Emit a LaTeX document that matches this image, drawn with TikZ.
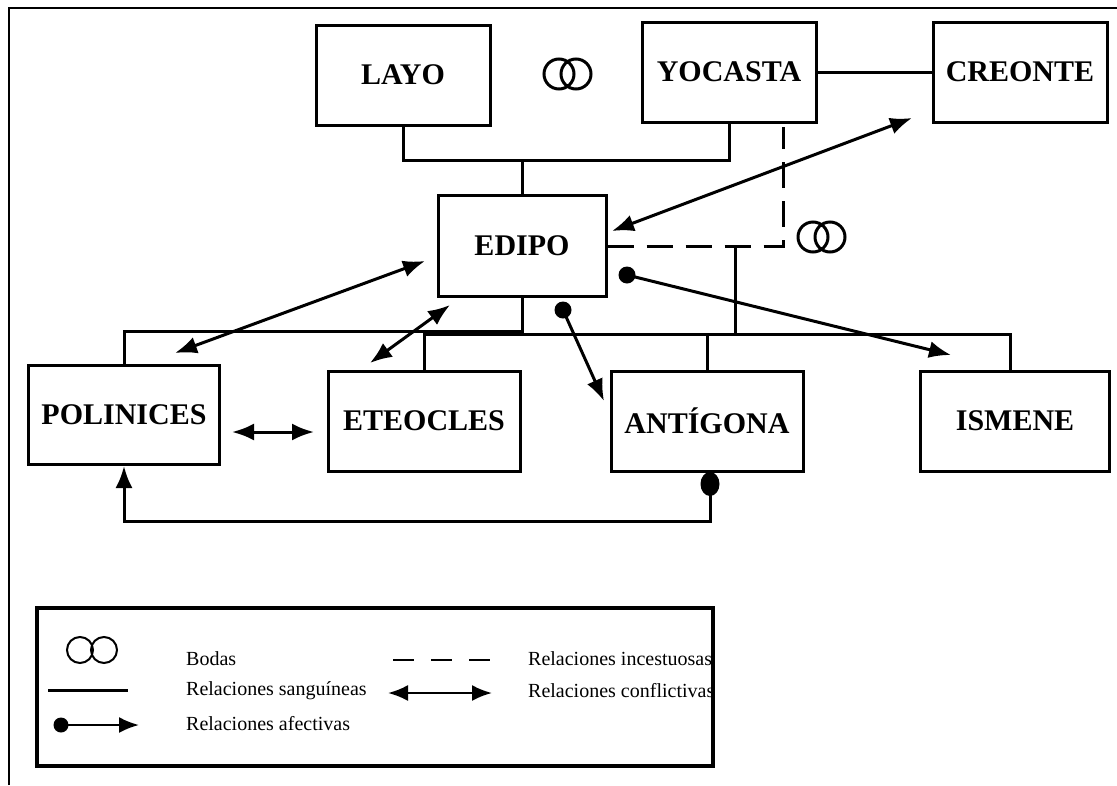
\documentclass[tikz,border=0pt]{standalone}
\usepackage{fontspec}
\setmainfont{Liberation Serif}
\usetikzlibrary{arrows.meta}

\begin{document}
\begin{tikzpicture}[x=1pt,y=-1pt,
  person/.style={draw,line width=3pt,minimum width=174pt,minimum height=100pt,
    inner sep=0pt,font=\fontsize{30}{31}\selectfont\bfseries},
  blood/.style={line width=3pt},
  incest/.style={line width=3pt,dash pattern=on 26pt off 13pt},
  bigtip/.tip={Latex[length=22pt,width=17pt]},
  smalltip/.tip={Latex[length=20pt,width=16pt]},
  conflict/.style={line width=3pt,bigtip-bigtip},
  affect/.style={line width=3pt,-bigtip},
  rings/.style={line width=3pt},
  legtext/.style={anchor=west,inner sep=0pt,font=\fontsize{20}{21}\selectfont},
]
\useasboundingbox (0,0) rectangle (1117,785);

% page frame (top and left edges only)
\draw[line width=1.6pt] (9,785) -- (9,8) -- (1117,8);

% characters
\node[person] (layo)    at (403,75)  {LAYO};
\node[person] (yocasta) at (729,72)  {YOCASTA};
\node[person] (creonte) at (1020,72) {CREONTE};
\node[person,minimum width=168pt,minimum height=101pt] (edipo) at (522,246) {EDIPO};
\node[person,minimum width=191pt,minimum height=99pt] (polinices) at (124,415) {POLINICES};
\node[person,minimum width=192pt] (eteocles) at (424,421) {ETEOCLES};
\node[person,minimum width=192pt] (antigona) at (707,421) {ANTÍGONA};
\node[person,minimum width=189pt] (ismene)   at (1015,421) {ISMENE};

% wedding rings
\draw[rings] (559,74) circle (15pt) (576,74) circle (15pt);
\draw[rings] (813,237) circle (15pt) (830,237) circle (15pt);

% blood relations
\coordinate (parents) at (522,160);
\draw[blood] (layo.south) |- (parents) -| (yocasta.south);
\draw[blood] (parents) -- (edipo.north);
\draw[blood] (yocasta.east) -- (creonte.west);
\coordinate (polbus) at (124,331);
\draw[blood] (edipo.south) |- (polbus) -- (polinices.north);
\coordinate (incT) at (735,246);
\coordinate (busL) at (424,334);
\coordinate (busR) at (1010,334);
\draw[blood] (incT) -- (incT |- busL);
\draw[blood] (eteocles.north) -- (busL) -- (busR) -- (busR |- ismene.north);
\draw[blood] (antigona.north) -- (antigona.north |- busL);

% incestuous relation
\coordinate (incC) at (783,246);
\coordinate (incTop) at (783,127);
\draw[incest] (edipo.east) -- (incC) -- (incTop);

% conflicts
\coordinate (c1a) at (175,353); \coordinate (c1b) at (425,261);
\coordinate (c2a) at (370,363); \coordinate (c2b) at (450,305);
\coordinate (c3a) at (612,231); \coordinate (c3b) at (912,118);
\coordinate (c4a) at (232,432); \coordinate (c4b) at (314,432);
\draw[conflict] (c1a) -- (c1b);
\draw[conflict] (c2a) -- (c2b);
\draw[conflict] (c3a) -- (c3b);
\draw[conflict] (c4a) -- (c4b);

% affections
\coordinate (a1s) at (563,310); \coordinate (a1e) at (604,401);
\coordinate (a2s) at (627,275); \coordinate (a2e) at (951,355);
\fill (a1s) circle (8.5pt);
\fill (a2s) circle (8.5pt);
\draw[affect] (a1s) -- (a1e);
\draw[affect] (a2s) -- (a2e);
\coordinate (a3s) at (710,484);
\coordinate (a3c) at (710,521);
\fill (a3s) ellipse (9.5pt and 12pt);
\draw[affect] (a3s) -- (a3c) -| (polinices.south);

% legend
\node[draw,line width=3.6pt,minimum width=676pt,minimum height=158pt,inner sep=0pt]
  (legend) at (375,687) {};
\draw[line width=2pt] (80,650) circle (13pt) (104,650) circle (13pt);
\node[legtext] (lbodas) at (186,659) {Bodas};
\draw[line width=2.6pt,dash pattern=on 21pt off 17pt] (393,660) -- (490,660);
\node[legtext] (linc) at (528,659) {Relaciones incestuosas};
\draw[line width=3pt] (48,690) -- (128,690);
\node[legtext] (lsang) at (186,691) {Relaciones sanguíneas};
\draw[line width=2.4pt,smalltip-smalltip] (388,693) -- (492,693);
\node[legtext] (lconf) at (528,691) {Relaciones conflictivas};
\fill (61,725) circle (7.5pt);
\draw[line width=2.4pt,-smalltip] (61,725) -- (139,725);
\node[legtext] (lafec) at (186,724) {Relaciones afectivas};
\end{tikzpicture}
\end{document}
